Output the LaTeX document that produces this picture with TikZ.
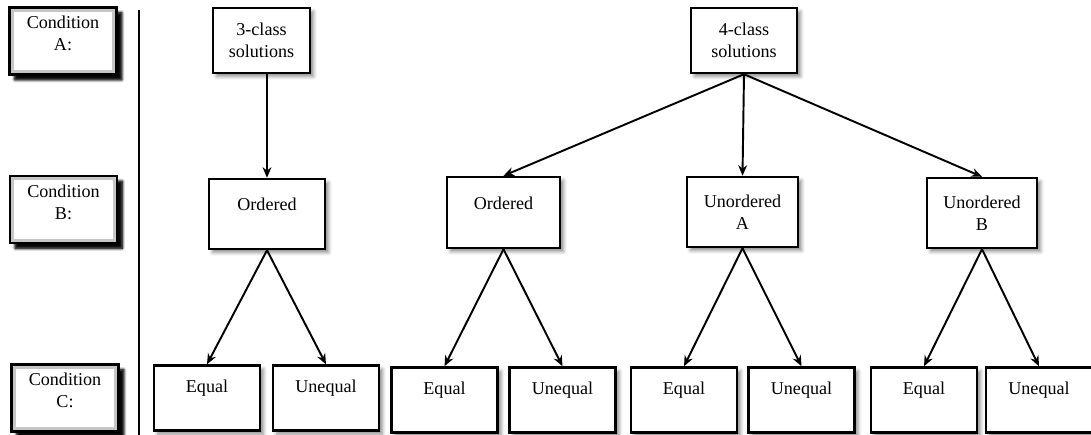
\documentclass[tikz,border=0pt]{standalone}
\usepackage{fontspec}
\setmainfont{Liberation Serif}
\usepackage{tikz}
\usetikzlibrary{positioning, arrows.meta, shadows.blur}
\tikzset{box/.style = {draw, line width=1.4pt, fill=white, inner sep=0pt,
                       minimum width=2.12cm, minimum height=1.3cm,
                       blur shadow={shadow xshift=2pt, shadow yshift=-2pt, shadow blur radius=2pt, shadow opacity=45}},
         cond/.style = {box, minimum width=2.14cm, minimum height=1.34cm, fill=gray!45,
                        blur shadow={shadow xshift=3pt, shadow yshift=-3pt, shadow blur radius=1.5pt, shadow opacity=85},
                        path picture={\fill[white] ([shift={(2.5pt,-2.5pt)}]path picture bounding box.north west)
                                      rectangle ([shift={(-2.5pt,2.5pt)}]path picture bounding box.south east);}},
         txt/.style = {align=center, font=\fontsize{10.3}{12.5}\selectfont},
         up/.style = {label={[txt, yshift=0.19cm]center:#1}},
         mid/.style = {label={[txt]center:#1}},
         ctxt/.style = {label={[txt, yshift=0.15cm]center:#1}},
         link/.style = {line width=1.1pt, -{Stealth[length=6pt, width=5pt]}}}
\begin{document}
\begin{tikzpicture}[x=0.02cm, y=-0.02cm]
    \useasboundingbox (0,0) rectangle (1091,435);

    % condition column
    \node [cond, ctxt={Condition\\A:}] (condA) at (63,41)    {};
    \node [cond, ctxt={Condition\\B:}] (condB) at (63.5,209.5) {};
    \node [cond, ctxt={Condition\\C:}] (condC) at (65,398)   {};
    \coordinate (sepTop) at (139,10);
    \coordinate (sepBot) at (139,435);
    \draw [line width=1.3pt] (sepTop) -- (sepBot);

    % condition A
    \node [box, minimum width=1.94cm, mid={3-class\\solutions}] (cls3) at (261.5,40.5) {};
    \node [box, mid={4-class\\solutions}] (cls4) at (744,40.5) {};

    % condition B
    \node [box, minimum width=2.32cm, minimum height=1.4cm, up={Ordered}] (ordL) at (267,214) {};
    \node [box, minimum width=2.26cm, minimum height=1.42cm, up={Ordered}] (ordM) at (503.5,212.5) {};
    \node [box, minimum width=2.22cm, minimum height=1.4cm, mid={Unordered\\A}] (unoA) at (742.5,212) {};
    \node [box, minimum width=2.2cm, minimum height=1.4cm, mid={Unordered\\B}] (unoB) at (982,213) {};

    % condition C
    \node [box, up={Equal}]   (eqL)   at (207,398)    {};
    \node [box, up={Unequal}] (uneqL) at (326,398)    {};
    \node [box, up={Equal}]   (eqM)   at (444.5,400)  {};
    \node [box, up={Unequal}] (uneqM) at (562.5,400)  {};
    \node [box, up={Equal}]   (eqA)   at (684,400)    {};
    \node [box, up={Unequal}] (uneqA) at (801.5,400)  {};
    \node [box, up={Equal}]   (eqB)   at (924,400)    {};
    \node [box, up={Unequal}] (uneqB) at (1039,400)   {};

    \draw [link] (cls3.south -| ordL.north) -- (ordL.north);
    \draw [link] (cls4.south) -- (ordM.north);
    \draw [link] (cls4.south) -- (unoA.north);
    \draw [link] (cls4.south) -- (unoB.north);

    \draw [link] (ordL.south) -- (eqL.north);
    \draw [link] (ordL.south) -- (uneqL.north);
    \draw [link] (ordM.south) -- (eqM.north);
    \draw [link] (ordM.south) -- (uneqM.north);
    \draw [link] (unoA.south) -- (eqA.north);
    \draw [link] (unoA.south) -- (uneqA.north);
    \draw [link] (unoB.south) -- (eqB.north);
    \draw [link] (unoB.south) -- (uneqB.north);
\end{tikzpicture}
\end{document}
